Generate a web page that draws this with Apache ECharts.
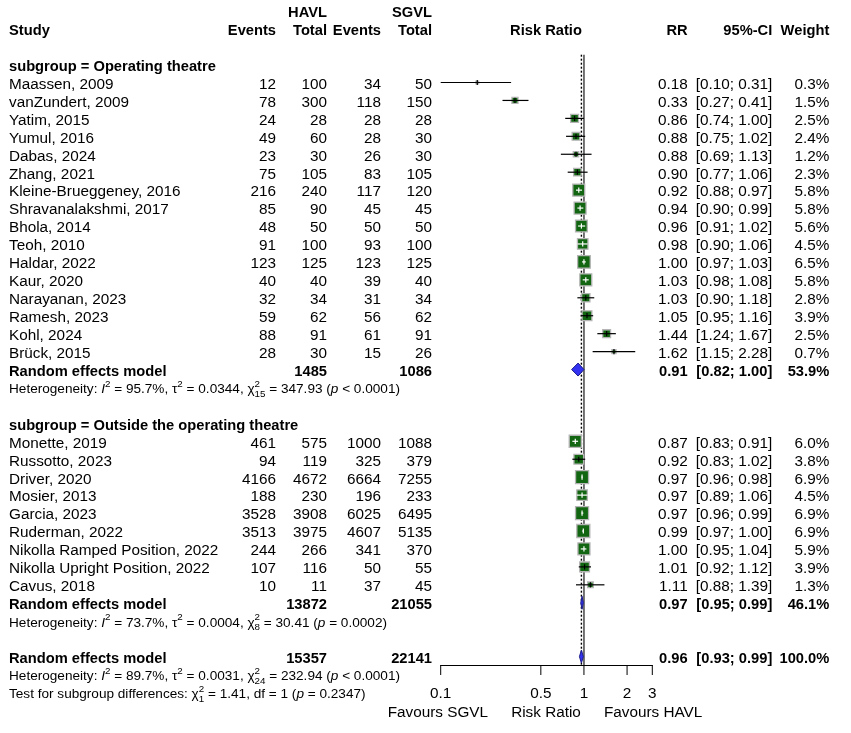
<!DOCTYPE html>
<html><head><meta charset="utf-8">
<script src="https://cdn.jsdelivr.net/npm/echarts@6/dist/echarts.min.js"></script>
<style>html,body{margin:0;padding:0;background:#fff}#c{width:851px;height:733px}</style>
</head><body><div id="c"></div>
<script>
// ---------------- DATA ----------------
const subgroupLabels = ["subgroup = Operating theatre", "subgroup = Outside the operating theatre"];

const studies1 = ["Maassen, 2009","vanZundert, 2009","Yatim, 2015","Yumul, 2016","Dabas, 2024","Zhang, 2021","Kleine-Brueggeney, 2016","Shravanalakshmi, 2017","Bhola, 2014","Teoh, 2010","Haldar, 2022","Kaur, 2020","Narayanan, 2023","Ramesh, 2023","Kohl, 2024","Brück, 2015"];
const havlEvents1 = [12,78,24,49,23,75,216,85,48,91,123,40,32,59,88,28];
const havlTotal1  = [100,300,28,60,30,105,240,90,50,100,125,40,34,62,91,30];
const sgvlEvents1 = [34,118,28,28,26,83,117,45,50,93,123,39,31,56,61,15];
const sgvlTotal1  = [50,150,28,30,30,105,120,45,50,100,125,40,34,62,91,26];
const rr1 = [0.18,0.33,0.86,0.88,0.88,0.90,0.92,0.94,0.96,0.98,1.00,1.03,1.03,1.05,1.44,1.62];
const lo1 = [0.10,0.27,0.74,0.75,0.69,0.77,0.88,0.90,0.91,0.90,0.97,0.98,0.90,0.95,1.24,1.15];
const hi1 = [0.31,0.41,1.00,1.02,1.13,1.06,0.97,0.99,1.02,1.06,1.03,1.08,1.18,1.16,1.67,2.28];
const weight1 = [0.3,1.5,2.5,2.4,1.2,2.3,5.8,5.8,5.6,4.5,6.5,5.8,2.8,3.9,2.5,0.7];

const studies2 = ["Monette, 2019","Russotto, 2023","Driver, 2020","Mosier, 2013","Garcia, 2023","Ruderman, 2022","Nikolla Ramped Position, 2022","Nikolla Upright Position, 2022","Cavus, 2018"];
const havlEvents2 = [461,94,4166,188,3528,3513,244,107,10];
const havlTotal2  = [575,119,4672,230,3908,3975,266,116,11];
const sgvlEvents2 = [1000,325,6664,196,6025,4607,341,50,37];
const sgvlTotal2  = [1088,379,7255,233,6495,5135,370,55,45];
const rr2 = [0.87,0.92,0.97,0.97,0.97,0.99,1.00,1.01,1.11];
const lo2 = [0.83,0.83,0.96,0.89,0.96,0.97,0.95,0.92,0.88];
const hi2 = [0.91,1.02,0.98,1.06,0.99,1.00,1.04,1.12,1.39];
const weight2 = [6.0,3.8,6.9,4.5,6.9,6.9,5.9,3.9,1.3];

// pooled: subgroup 1, subgroup 2, overall
const pooledLabel = "Random effects model";
const pooledHavlTotal = [1485,13872,15357];
const pooledSgvlTotal = [1086,21055,22141];
const pooledRR = [0.91,0.97,0.96];
const pooledLo = [0.82,0.95,0.93];
const pooledHi = [1.00,0.99,0.99];
const pooledWeight = [53.9,46.1,100.0];

const hetI2 = ["95.7%","73.7%","89.7%"];
const hetTau2 = ["0.0344","0.0004","0.0031"];
const hetDf = ["15","8","24"];
const hetChi2 = ["347.93","30.41","232.94"];
const hetP = ["< 0.0001","= 0.0002","< 0.0001"];
const testChi2 = "1.41", testDf = "1", testP = "0.2347";

const nullValue = 1;
const xTicks = [0.1,0.5,1,2,3];
const xTickLabels = ["0.1","0.5","1","2","3"];
const headerTop = ["HAVL","SGVL"];
const headerCols = ["Study","Events","Total","Events","Total","Risk Ratio","RR","95%-CI","Weight"];
const bottomLabels = ["Favours SGVL","Risk Ratio","Favours HAVL"];

// ---------------- LAYOUT ----------------
const ROW0 = 82.5, ROWH = 17.94, YMIN = -4.5;
const TOP = ROW0 + YMIN * ROWH;
const AXIS_Y = 665;
const Y0MAX = YMIN + (AXIS_Y - TOP) / ROWH;
const Y1MAX = YMIN + (733 - TOP) / ROWH;
const PLOT_L = 440.7, PLOT_W = 211.6;
const TXT_DY = 2.1;
const FONT = "'Liberation Sans', Arial, Helvetica, sans-serif";
const FS = 15.3, FSB = 14.7, FSH = 13.6;
const COL = {study:9, he:276, ht:327, se:381, st:432, rrHead:546, rr:687.7, ci:772.3, w:829.3};
const GREEN = '#126612';

const measureCtx = document.createElement('canvas').getContext('2d');
function textW(t, font){ measureCtx.font = font; return measureCtx.measureText(t).width; }

const textItems = [];
function addText(x, r, text, opt){ textItems.push(Object.assign({x:x, r:r, text:String(text), align:'left', bold:false}, opt||{})); }
function fmt2(v){ return v.toFixed(2); }
function ci(l,h){ return "[" + fmt2(l) + "; " + fmt2(h) + "]"; }

function buildSegs(segs, size){
  let x = 0; const out = []; let stackX = null, stackW = 0;
  segs.forEach(s => {
    const small = s.sup || s.sub;
    const fs = small ? size * 0.72 : size;
    const font = (s.it ? 'italic ' : '') + fs + 'px ' + FONT;
    const w = textW(s.t, font);
    const dy = s.sup ? -size * 0.40 : (s.sub ? size * 0.36 : 0);
    if (s.stack) { out.push({dx:x, dy:dy, text:s.t, font:font}); stackX = x; stackW = w; return; }
    if (stackX !== null && small) { out.push({dx:stackX, dy:dy, text:s.t, font:font}); x = stackX + Math.max(stackW, w); stackX = null; return; }
    out.push({dx:x, dy:dy, text:s.t, font:font}); x += w;
  });
  return out;
}
function hetSegs(i){
  return buildSegs([
    {t:"Heterogeneity: "},{t:"I", it:true},{t:"2", sup:true},{t:" = " + hetI2[i] + ", \u03c4"},{t:"2", sup:true},
    {t:" = " + hetTau2[i] + ", \u03c7"},{t:"2", sup:true, stack:true},{t:hetDf[i], sub:true},
    {t:" = " + hetChi2[i] + " ("},{t:"p", it:true},{t:" " + hetP[i] + ")"}
  ], FSH);
}

// headers
addText(COL.ht, -4, headerTop[0], {align:'right', bold:true});
addText(COL.st, -4, headerTop[1], {align:'right', bold:true});
const hx = [COL.study, COL.he, COL.ht, COL.se, COL.st, COL.rrHead, COL.rr, COL.ci, COL.w];
const ha = ['left','right','right','right','right','center','right','right','right'];
headerCols.forEach((h,i) => addText(hx[i], -3, h, {align:ha[i], bold:true}));

const studyMarks = [];
function addGroup(startRow, label, st, he, ht, se, stt, rr, lo, hi, w){
  addText(COL.study, startRow - 1, label, {bold:true});
  st.forEach((name, i) => {
    const r = startRow + i;
    addText(COL.study, r, name);
    addText(COL.he, r, he[i], {align:'right'});
    addText(COL.ht, r, ht[i], {align:'right'});
    addText(COL.se, r, se[i], {align:'right'});
    addText(COL.st, r, stt[i], {align:'right'});
    addText(COL.rr, r, fmt2(rr[i]), {align:'right'});
    addText(COL.ci, r, ci(lo[i], hi[i]), {align:'right'});
    addText(COL.w, r, w[i].toFixed(1) + "%", {align:'right'});
    studyMarks.push([rr[i], r, lo[i], hi[i], w[i]]);
  });
}
addGroup(0, subgroupLabels[0], studies1, havlEvents1, havlTotal1, sgvlEvents1, sgvlTotal1, rr1, lo1, hi1, weight1);
addGroup(20, subgroupLabels[1], studies2, havlEvents2, havlTotal2, sgvlEvents2, sgvlTotal2, rr2, lo2, hi2, weight2);

const pooledRows = [16, 29, 32];
const diamondData = [];
pooledRows.forEach((r, k) => {
  addText(COL.study, r, pooledLabel, {bold:true});
  addText(COL.ht, r, pooledHavlTotal[k], {align:'right', bold:true});
  addText(COL.st, r, pooledSgvlTotal[k], {align:'right', bold:true});
  addText(COL.rr, r, fmt2(pooledRR[k]), {align:'right', bold:true});
  addText(COL.ci, r, ci(pooledLo[k], pooledHi[k]), {align:'right', bold:true});
  addText(COL.w, r, pooledWeight[k].toFixed(1) + "%", {align:'right', bold:true});
  addText(COL.study, r + 1, "", {segs: hetSegs(k)});
  diamondData.push([pooledRR[k], r, pooledLo[k], pooledHi[k]]);
});
addText(COL.study, 34, "", {segs: buildSegs([
  {t:"Test for subgroup differences: \u03c7"},{t:"2", sup:true, stack:true},{t:testDf, sub:true},
  {t:" = " + testChi2 + ", df = " + testDf + " ("},{t:"p", it:true},{t:" = " + testP + ")"}
], FSH)});
addText(488, 35, bottomLabels[0], {align:'right'});
addText(COL.rrHead, 35, bottomLabels[1], {align:'center'});
addText(604, 35, bottomLabels[2], {align:'left'});

// ---------------- CHART ----------------
const chart = echarts.init(document.getElementById('c'), null, {renderer:'canvas'});
chart.setOption({
  animation:false,
  backgroundColor:'#fff',
  grid:[
    {left:PLOT_L, top:TOP, width:PLOT_W, height:AXIS_Y - TOP, containLabel:false, outerBoundsMode:'none'},
    {left:0, top:TOP, width:851, height:733 - TOP, containLabel:false, outerBoundsMode:'none'}
  ],
  xAxis:[
    {type:'log', logBase:10, gridIndex:0, min:0.1, max:3, position:'bottom',
     axisLine:{show:true, onZero:false, lineStyle:{color:'#000', width:1}},
     axisTick:{show:false}, axisLabel:{show:false}, splitLine:{show:false}},
    {type:'value', gridIndex:1, min:0, max:851, show:false}
  ],
  yAxis:[
    {type:'value', gridIndex:0, min:YMIN, max:Y0MAX, inverse:true, show:false},
    {type:'value', gridIndex:1, min:YMIN, max:Y1MAX, inverse:true, show:false}
  ],
  series:[
    { // reference lines
      type:'custom', xAxisIndex:0, yAxisIndex:0, clip:false, z:1,
      data:[[nullValue, 0], [pooledRR[2], 1]],
      renderItem:function(params, api){
        const a = api.coord([api.value(0), -1.55]);
        const b = api.coord([api.value(0), Y0MAX]);
        const dotted = api.value(1) === 1;
        return {type:'line', shape:{x1:a[0], y1:a[1], x2:b[0], y2:b[1]},
          style:{stroke: dotted ? '#000' : '#666', lineWidth: dotted ? 1.4 : 1.8, lineDash: dotted ? [2,2] : null}};
      }
    },
    { // studies
      type:'custom', xAxisIndex:0, yAxisIndex:0, clip:false, z:3,
      data:studyMarks,
      renderItem:function(params, api){
        const r = api.value(1);
        const c = api.coord([api.value(0), r]);
        const pl = api.coord([api.value(2), r]);
        const ph = api.coord([api.value(3), r]);
        const side = 13 * Math.sqrt(api.value(4) / 6.9);
        const inside = pl[0] >= c[0] - side/2 - 0.6 && ph[0] <= c[0] + side/2 + 0.6;
        const lc = inside ? '#fff' : '#000';
        return {type:'group', children:[
          {type:'rect', shape:{x:c[0]-side/2, y:c[1]-side/2, width:side, height:side}, style:{fill:GREEN, stroke:'#b5b5b5', lineWidth:1.3}},
          {type:'line', shape:{x1:pl[0], y1:c[1], x2:ph[0], y2:c[1]}, style:{stroke:lc, lineWidth:1.2}},
          {type:'line', shape:{x1:c[0], y1:c[1]-2.6, x2:c[0], y2:c[1]+2.6}, style:{stroke:lc, lineWidth:1.2}}
        ]};
      }
    },
    { // diamonds
      type:'custom', xAxisIndex:0, yAxisIndex:0, clip:false, z:4,
      data:diamondData,
      renderItem:function(params, api){
        const r = api.value(1);
        const c = api.coord([api.value(0), r]);
        const pl = api.coord([api.value(2), r]);
        const ph = api.coord([api.value(3), r]);
        const hh = 6.5;
        return {type:'polygon', shape:{points:[[pl[0], c[1]], [c[0], c[1]-hh], [ph[0], c[1]], [c[0], c[1]+hh]]},
          style:{fill:'#3232f0', stroke:'#1c1c8c', lineWidth:1}};
      }
    },
    { // x ticks and labels
      type:'custom', xAxisIndex:0, yAxisIndex:0, clip:false, z:5,
      data:xTicks.map((v,i) => [v, i]),
      renderItem:function(params, api){
        const p = api.coord([api.value(0), Y0MAX]);
        return {type:'group', children:[
          {type:'line', shape:{x1:p[0], y1:p[1], x2:p[0], y2:p[1]+10}, style:{stroke:'#000', lineWidth:1}},
          {type:'text', x:p[0], y:p[1]+29, style:{text:xTickLabels[api.value(1)], font:FS + 'px ' + FONT, fill:'#000', align:'center', verticalAlign:'middle'}}
        ]};
      }
    },
    { // all text
      type:'custom', xAxisIndex:1, yAxisIndex:1, clip:false, z:6,
      data:textItems.map((t,i) => [t.x, t.r, i]),
      renderItem:function(params, api){
        const t = textItems[api.value(2)];
        const p = api.coord([api.value(0), api.value(1)]);
        if (t.segs) {
          return {type:'group', children:t.segs.map(s => ({type:'text', x:p[0]+s.dx, y:p[1]+TXT_DY+s.dy,
            style:{text:s.text, font:s.font, fill:'#000', align:'left', verticalAlign:'middle'}}))};
        }
        const font = (t.bold ? 'bold ' + FSB : FS) + 'px ' + FONT;
        return {type:'text', x:p[0], y:p[1]+TXT_DY, style:{text:t.text, font:font, fill:'#000', align:t.align, verticalAlign:'middle'}};
      }
    }
  ]
});
</script>
</body></html>
